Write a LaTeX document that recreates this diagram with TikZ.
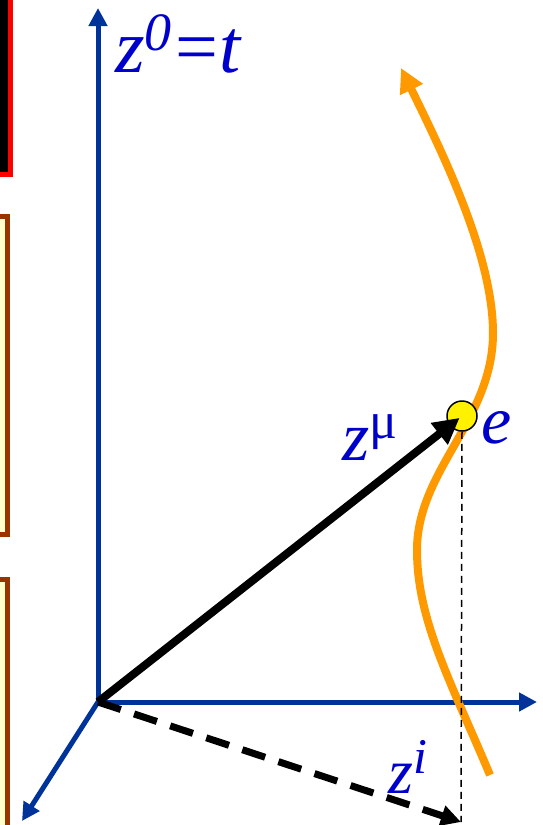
\documentclass[tikz,border=0pt]{standalone}
\usepackage{fontspec}
\setmainfont{Liberation Serif}
\usetikzlibrary{arrows.meta}
\definecolor{axisblue}{HTML}{003399}
\definecolor{textblue}{HTML}{0000CC}
\definecolor{worldorange}{HTML}{FF9900}
\definecolor{boxbrown}{HTML}{993300}
\definecolor{boxfill}{HTML}{FFFFCC}
\begin{document}
\begin{tikzpicture}[x=1pt,y=-1pt,
  axis/.style={draw=axisblue, line width=5pt, -{Triangle[length=18pt,width=18pt]}},
  worldline/.style={draw=worldorange, line width=8pt, -{Triangle[length=24pt,width=24pt]}},
  vec/.style={draw=black, line width=8pt, -{Triangle[length=26pt,width=26pt]}},
  proj/.style={draw=black, line width=7pt, dash pattern=on 24pt off 14pt, -{Triangle[length=20pt,width=20pt]}},
  drop/.style={draw=black, line width=1.5pt, dash pattern=on 7pt off 5pt},
  lbl/.style={text=textblue, font=\itshape, inner sep=0pt, anchor=base west},
  event/.style={circle, draw=black, fill=yellow, line width=1.5pt, minimum size=30pt, inner sep=0pt}]
\useasboundingbox (0,0) rectangle (543,825);
\clip (0,0) rectangle (543,825);
% partial boxes on the left edge
\draw[red, line width=5pt, fill=black] (-30,-30) rectangle (10,174.5);
\draw[boxbrown, line width=5pt, fill=boxfill] (-30,216.5) rectangle (7.5,534.5);
\draw[boxbrown, line width=5pt, fill=boxfill] (-30,579.5) rectangle (7.5,860);
% coordinates
\coordinate (O) at (98,702);
\coordinate (T) at (98,8);
\coordinate (X) at (537,702);
\coordinate (Y) at (22,821);
\coordinate (Z) at (461,822);
% axes
\draw[axis] (O) -- (T);
\draw[axis] (O) -- (X);
\draw[axis] (O) -- (Y);
% world line
\draw[worldline] (490,775) .. controls (450,680) and (417,620) .. (417,550)
  .. controls (417,470) and (493,420) .. (493,333)
  .. controls (493,255) and (442,152) .. (401,68);
% event
\node[event] (E) at (462,416) {};
% vectors
\draw[vec, shorten >=3pt] (O) -- (E.center);
\draw[proj] (O) -- (Z);
\draw[drop] (E.south) -- (Z);
% labels
\node[lbl, font=\fontsize{76}{76}\selectfont\itshape] (L0) at (115,72) {z\raisebox{22pt}{\fontsize{54}{54}\selectfont 0}\hspace{4pt}\upshape=\hspace{1pt}\itshape t};
\node[lbl, font=\fontsize{70}{70}\selectfont\itshape] (Lmu) at (342,460) {z\raisebox{22pt}{\fontsize{52}{52}\selectfont\upshape μ}};
\node[lbl, font=\fontsize{68}{68}\selectfont\itshape] (Le) at (481,443) {e};
\node[lbl, font=\fontsize{64}{64}\selectfont\itshape] (Li) at (388,793) {z\raisebox{20pt}{\fontsize{50}{50}\selectfont i}};
\end{tikzpicture}
\end{document}
